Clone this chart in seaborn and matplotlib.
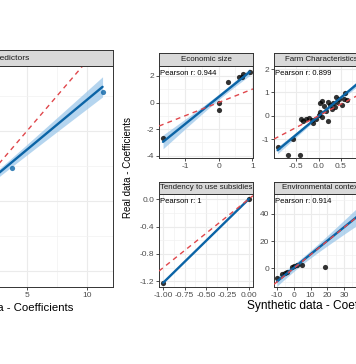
import numpy as np
import pandas as pd
import seaborn as sns
import matplotlib.pyplot as plt

# coefficients, synthetic (x) vs real (y), one pair of lists per facet
# (the left panel and the right-hand column are only partly in view)
all_x = [-5.0, -4.2, -3.5, -2.8, -2.0, -1.5, -1.0, -0.6, -0.2, 0.3, 0.8, 1.2,
         1.8, 2.3, 3.75, 11.3]
all_y = [-3.06, -4.09, -3.49, -1.09, -0.32, -1.67, -1.41, 0.88, 0.76, -0.38,
         -0.02, 2.26, 1.69, 1.95, 2.36, 7.8]

econ_x = [-1.65, 0.0, 0.0, 0.28, 0.60, 0.68, 0.73, 0.92]
econ_y = [-2.65, 0.0, -0.56, 1.52, 1.89, 1.89, 2.14, 2.27]

farm_x = [-0.91, -0.68, -0.42, -0.56, -0.38, -0.34, -0.28, -0.21, -0.15, -0.12,
          -0.06, 0.0, 0.04, 0.08, 0.12, 0.08, 0.17, 0.22, 0.20, 0.26,
          0.30, 0.33, 0.37, 0.38, 0.40, 0.46, 0.52, 0.56, 0.59, 0.04,
          0.63, 0.92, 1.00]
farm_y = [-1.33, -1.66, -1.66, -1.00, -0.12, -0.24, -0.15, -0.09, -0.19, -0.31,
          -0.12, 0.02, 0.16, -0.05, 0.42, 0.62, 0.19, -0.24, 0.59, 0.45,
          0.30, 0.56, 0.38, 0.80, 0.59, 0.70, 0.47, 0.70, 0.99, 0.56,
          0.67, 1.25, 1.99]

subs_x = [-1.0, 0.0]
subs_y = [-1.22, 0.0]

env_x = [-10.0, -7.0, -5.25, -4.06, -1.07, 0.1, 1.9, 4.9, 18.8, 42.0]
env_y = [-7.35, -4.2, -3.1, -2.5, 1.2, 1.8, 2.4, 2.4, 0.7, 52.0]

W, H = 356, 364
BLUE = '#0B64A6'
BAND = '#9DC8EA'
RED = '#E0474C'
LEVEL = 0.68

try:
    from scipy.stats import t as tdist

    def tq(df):
        return tdist.ppf(0.5 + LEVEL / 2, df)
except ImportError:
    def tq(df):
        return 1.0 + 0.5 / df


def box(x0, y0, x1, y1):
    return [x0 / W, 1 - y1 / H, (x1 - x0) / W, (y1 - y0) / H]


def add_band(ax, x, y):
    x = np.asarray(x, float)
    y = np.asarray(y, float)
    n = len(x)
    b, a = np.polyfit(x, y, 1)
    grid = np.linspace(x.min(), x.max(), 200)
    res = y - (a + b * x)
    s = np.sqrt(res @ res / (n - 2))
    se = s * np.sqrt(1 / n + (grid - x.mean()) ** 2 / ((x - x.mean()) ** 2).sum())
    fit = a + b * grid
    ax.fill_between(grid, fit - tq(n - 2) * se, fit + tq(n - 2) * se,
                    color=BAND, alpha=0.75, lw=0, zorder=1.5)


sns.set_theme(style='white')
plt.rcParams['font.family'] = ['Liberation Sans', 'DejaVu Sans']
plt.rcParams['axes.unicode_minus'] = False

fig = plt.figure(figsize=(W / 100, H / 100), dpi=100)


def panel(px, spx, title, x, y, xlim, ylim, xt, xtl, xmin, yt, ytl, ymin,
          label=None, pt='black', tsize=5.7, band=True):
    ax = fig.add_axes(box(*px))
    df = pd.DataFrame({'synthetic': x, 'real': y})
    sns.regplot(data=df, x='synthetic', y='real', ax=ax, ci=None,
                scatter_kws=dict(s=14, color=pt, linewidths=0, zorder=2.5),
                line_kws=dict(color=BLUE, lw=1.7, zorder=3))
    if band:
        add_band(ax, x, y)
    ax.axline((0, 0), slope=1, color=RED, lw=1.0, ls=(0, (3.5, 3)), zorder=4)
    ax.set_xlim(xlim)
    ax.set_ylim(ylim)
    ax.set_xticks(xt, xtl)
    ax.set_yticks(yt, ytl)
    ax.set_xticks(xmin, minor=True)
    ax.set_yticks(ymin, minor=True)
    ax.grid(which='major', color='#EBEBEB', lw=0.8)
    ax.grid(which='minor', color='#F2F2F2', lw=0.5)
    ax.set_axisbelow(True)
    ax.set(xlabel='', ylabel='')
    ax.tick_params(which='major', bottom=True, left=True, length=2.2, width=0.6,
                   color='#333333', labelsize=6, labelcolor='#4D4D4D', pad=1.2)
    ax.tick_params(which='minor', length=0)
    for s in ax.spines.values():
        s.set_color('#333333')
        s.set_linewidth(0.7)
    if label:
        ax.annotate(label, xy=(0, 1), xycoords='axes fraction', xytext=(1, -5.6),
                    textcoords='offset points', ha='left', va='center',
                    fontsize=5.5, color='black')
    sax = fig.add_axes(box(*spx))
    sax.set_facecolor('#D9D9D9')
    sax.set_xticks([])
    sax.set_yticks([])
    for s in sax.spines.values():
        s.set_color('#333333')
        s.set_linewidth(0.7)
    sax.text(0.5, 0.5, title, ha='center', va='center', fontsize=tsize,
             color='#1A1A1A', transform=sax.transAxes, clip_on=True)
    return ax


panel((-103, 66, 113, 287), (-103, 50, 113, 66), 'All predictors', all_x, all_y,
      (-5.83, 12.17), (-6.14, 9.64),
      [-5, 0, 5, 10], ['-5', '0', '5', '10'], [-2.5, 2.5, 7.5],
      [-5, 0, 5], ['-5', '0', '5'], [-2.5, 2.5, 7.5],
      pt=BLUE, tsize=6)

panel((159, 65.5, 253, 158), (159, 53, 253, 65.5), 'Economic size', econ_x, econ_y,
      (-1.77, 1.02), (-4.17, 2.78),
      [-1, 0, 1], ['-1', '0', '1'], [-1.5, -0.5, 0.5],
      [-4, -2, 0, 2], ['-4', '-2', '0', '2'], [-3, -1, 1],
      label='Pearson r: 0.944')

panel((274, 65.5, 368, 158), (274, 53, 368, 65.5), 'Farm Characteristics', farm_x, farm_y,
      (-0.99, 1.1), (-1.80, 2.15),
      [-0.5, 0.0, 0.5, 1.0], ['-0.5', '0.0', '0.5', '1.0'], [-0.75, -0.25, 0.25, 0.75],
      [-1, 0, 1, 2], ['-1', '0', '1', '2'], [-1.5, -0.5, 0.5, 1.5],
      label='Pearson r: 0.899')

panel((159, 194, 253, 287), (159, 181.5, 253, 194), 'Tendency to use subsidies', subs_x, subs_y,
      (-1.05, 0.05), (-1.283, 0.075),
      [-1.0, -0.75, -0.5, -0.25, 0.0], ['-1.00', '-0.75', '-0.50', '-0.25', '0.00'],
      [-0.875, -0.625, -0.375, -0.125],
      [-1.2, -0.8, -0.4, 0.0], ['-1.2', '-0.8', '-0.4', '0.0'], [-1.0, -0.6, -0.2],
      label='Pearson r: 1', band=False)

panel((274, 194, 368, 287), (274, 181.5, 368, 194), 'Environmental context', env_x, env_y,
      (-11.8, 44.3), (-13.75, 54.6),
      [-10, 0, 10, 20, 30, 40], ['-10', '0', '10', '20', '30', '40'], [-5, 5, 15, 25, 35],
      [0, 20, 40], ['0', '20', '40'], [-10, 10, 30, 50],
      label='Pearson r: 0.914')

fig.text(128 / W, 1 - 168 / H, 'Real data - Coefficients', rotation=90,
         ha='center', va='center', fontsize=7, color='black')
fig.text(73 / W, 1 - 308 / H, 'Synthetic data - Coefficients',
         ha='right', va='center', fontsize=8.2, color='black')
fig.text(247 / W, 1 - 306 / H, 'Synthetic data - Coefficients',
         ha='left', va='center', fontsize=8.6, color='black')

fig.savefig('out.png', dpi=100)
